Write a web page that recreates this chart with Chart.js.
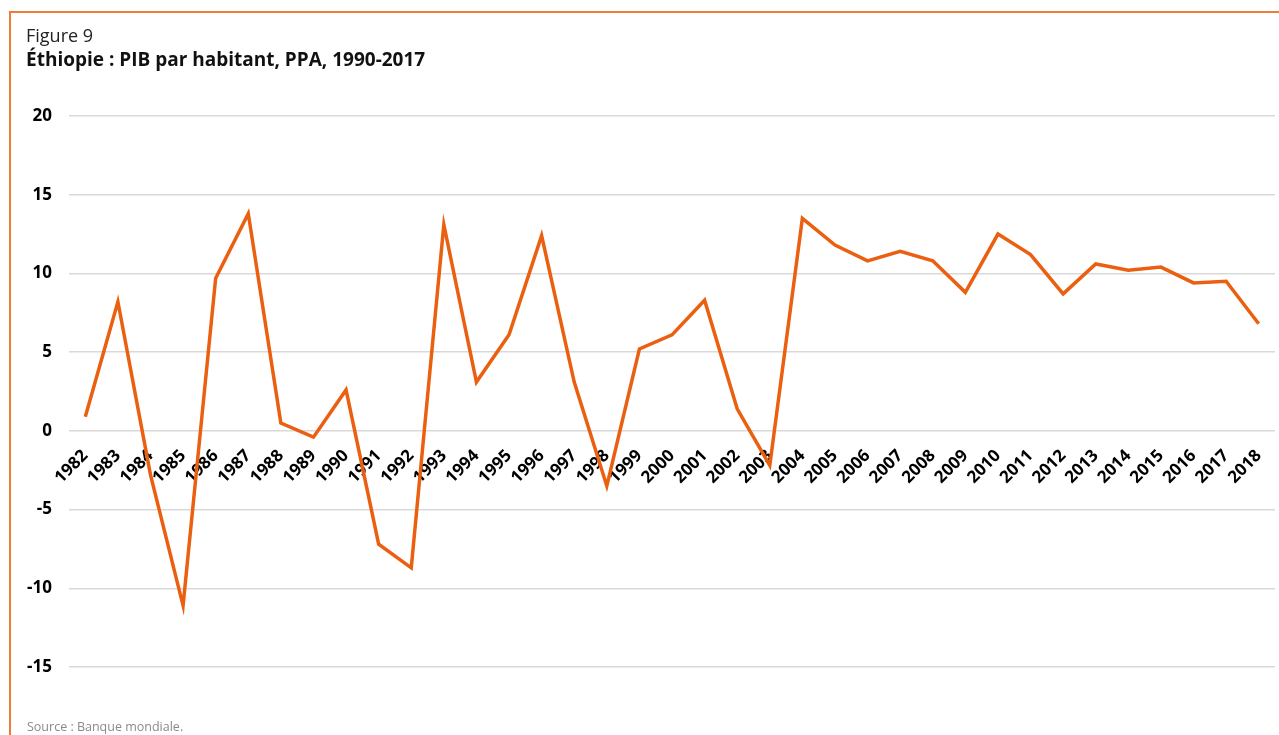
<!DOCTYPE html>
<html lang="fr">
<head>
<meta charset="utf-8">
<title>Éthiopie : PIB par habitant, PPA</title>
<script src="https://cdn.jsdelivr.net/npm/chart.js@4/dist/chart.umd.min.js"></script>
<style>
    body { margin: 0; background: #fff; }
    #wrap { position: relative; width: 1279px; height: 735px; overflow: hidden; font-family: "Open Sans", sans-serif; }
    #frame { position: absolute; left: 9px; top: 11px; right: 0; bottom: 0; border-top: 2px solid #f07c3a; border-left: 2px solid #f07c3a; }
    #fig { position: absolute; left: 26px; top: 23px; font-size: 18px; color: #222; }
    #titre { position: absolute; left: 26px; top: 46px; font-size: 19px; font-weight: bold; color: #111; }
    #source { position: absolute; left: 27px; top: 718px; font-size: 12.5px; color: #8a8a8a; }
    #graph { position: absolute; left: 0; top: 0; }
</style>
</head>
<body>
<div id="wrap">
    <div id="frame"></div>
    <canvas id="graph" width="1279" height="735"></canvas>
    <div id="fig">Figure 9</div>
    <div id="titre">Éthiopie : PIB par habitant, PPA, 1990-2017</div>
    <div id="source">Source : Banque mondiale.</div>
</div>
<script>
const annees = ['1982', '1983', '1984', '1985', '1986', '1987', '1988', '1989', '1990', '1991',
    '1992', '1993', '1994', '1995', '1996', '1997', '1998', '1999', '2000', '2001',
    '2002', '2003', '2004', '2005', '2006', '2007', '2008', '2009', '2010', '2011',
    '2012', '2013', '2014', '2015', '2016', '2017', '2018'];
const pibHabitant = [0.9, 8.2, -2.8, -11.1, 9.7, 13.8, 0.5, -0.4, 2.6, -7.2,
    -8.7, 13.1, 3.1, 6.1, 12.4, 3.1, -3.5, 5.2, 6.1, 8.3,
    1.4, -2.2, 13.5, 11.8, 10.8, 11.4, 10.8, 8.8, 12.5, 11.2,
    8.7, 10.6, 10.2, 10.4, 9.4, 9.5, 6.8];
const yMin = -15;
const yMax = 20;
const yPas = 5;

function initGraph() {
    const ctx = document.getElementById('graph');
    new Chart(ctx, {
        type: 'line',
        data: {
            labels: annees,
            datasets: [{
                label: 'PIB par habitant',
                data: pibHabitant,
                borderColor: '#ea6010',
                borderWidth: 3.5,
                pointRadius: 0,
                tension: 0,
                fill: false
            }]
        },
        options: {
            responsive: false,
            animation: false,
            layout: { padding: { left: 0, right: 4, top: 116, bottom: 68 } },
            plugins: {
                legend: { display: false },
                tooltip: { enabled: false }
            },
            scales: {
                x: {
                    position: { y: 0 },
                    offset: true,
                    afterFit: function(scale) {
                        // les étiquettes sont dans la zone du graphique, pas de marge en plus
                        scale.paddingLeft = 0;
                        scale.paddingRight = 0;
                    },
                    grid: { display: false, drawTicks: false },
                    border: { display: false },
                    ticks: {
                        autoSkip: false,
                        maxRotation: 45,
                        minRotation: 45,
                        padding: 15,
                        color: '#000',
                        font: { family: 'Open Sans', size: 17, weight: 'bold' }
                    }
                },
                y: {
                    min: yMin,
                    max: yMax,
                    afterFit: function(scale) { scale.width = 69; },
                    grid: { color: '#d9d9d9', lineWidth: 1.5, drawTicks: false },
                    border: { display: false },
                    ticks: {
                        stepSize: yPas,
                        padding: 17,
                        color: '#000',
                        font: { family: 'Open Sans', size: 17, weight: 'bold' }
                    }
                }
            }
        }
    });
}

initGraph();
</script>
</body>
</html>
